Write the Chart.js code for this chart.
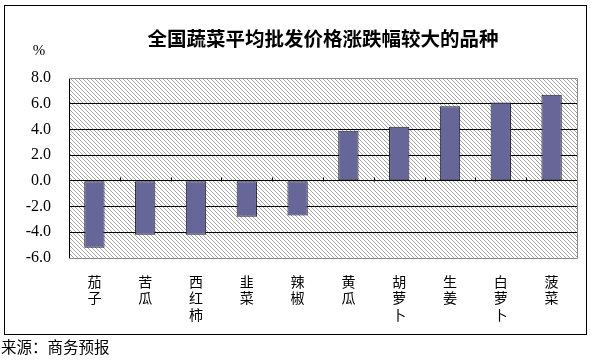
<!DOCTYPE html>
<html><head><meta charset="utf-8">
<script src="https://cdn.jsdelivr.net/npm/chart.js@4.4.0/dist/chart.umd.min.js"></script>
<style>html,body{margin:0;padding:0;background:#fff;} #wrap{width:597px;height:361px;position:relative;}</style>
</head><body><div id="wrap"><canvas id="c" width="597" height="361"></canvas></div>
<script>
const titleText = '全国蔬菜平均批发价格涨跌幅较大的品种';
const unitLabel = '%';
const sourceText = '来源：商务预报';
const categories = ['茄子','苦瓜','西红柿','韭菜','辣椒','黄瓜','胡萝卜','生姜','白萝卜','菠菜'];
const changes = [-5.2, -4.2, -4.2, -2.8, -2.7, 3.9, 4.2, 5.8, 6.1, 6.7];
const yTicks = [-6, -4, -2, 0, 2, 4, 6, 8];

const tile = document.createElement('canvas');
tile.width = 4; tile.height = 4;
const tc = tile.getContext('2d');
tc.fillStyle = '#ffffff'; tc.fillRect(0, 0, 4, 4);
tc.fillStyle = '#a4a4a4';
for (let i = 0; i < 4; i++) tc.fillRect(i, i, 1, 1);

const decor = {
  id: 'decor',
  beforeDraw(chart) {
    const ctx = chart.ctx, a = chart.chartArea;
    ctx.save();
    ctx.fillStyle = '#fff';
    ctx.fillRect(0, 0, chart.width, chart.height);
    ctx.fillStyle = ctx.createPattern(tile, 'repeat');
    ctx.fillRect(a.left, a.top, a.right - a.left, a.bottom - a.top);
    ctx.strokeStyle = '#000'; ctx.lineWidth = 1;
    ctx.strokeRect(4.5, 5.5, 582, 329);
    ctx.fillStyle = '#000';
    ctx.textAlign = 'center'; ctx.textBaseline = 'middle';
    ctx.font = 'bold 19.5px "Noto Sans CJK SC"';
    ctx.fillText(titleText, (a.left + a.right) / 2, 39);
    ctx.font = '15px "Liberation Serif"';
    ctx.fillText(unitLabel, 39, 51);
    ctx.textAlign = 'left';
    ctx.font = '15.5px "Noto Sans CJK SC"';
    ctx.fillText(sourceText, 1, 347);
    ctx.restore();
  },
  afterDraw(chart) {
    const ctx = chart.ctx, a = chart.chartArea;
    const ys = chart.scales.y;
    ctx.save();
    ctx.strokeStyle = '#8a8a8a'; ctx.lineWidth = 1;
    ctx.beginPath();
    ctx.moveTo(a.left, Math.round(a.top) + 0.5); ctx.lineTo(Math.round(a.right) + 0.5, Math.round(a.top) + 0.5);
    ctx.lineTo(Math.round(a.right) + 0.5, Math.round(a.bottom) + 0.5);
    ctx.lineTo(a.left, Math.round(a.bottom) + 0.5);
    ctx.stroke();
    const y0 = Math.round(ys.getPixelForValue(0)) + 0.5;
    ctx.strokeStyle = '#000';
    ctx.beginPath();
    const n = categories.length, w = (a.right - a.left) / n;
    for (let k = 1; k < n; k++) {
      const x = Math.round(a.left + k * w) + 0.5;
      ctx.moveTo(x, y0); ctx.lineTo(x, y0 - 4);
    }
    ctx.stroke();
    ctx.restore();
  }
};

new Chart(document.getElementById('c'), {
  type: 'bar',
  data: {
    labels: categories,
    datasets: [{
      data: changes,
      backgroundColor: '#666699',
      borderColor: '#22222e',
      borderWidth: 1,
      borderSkipped: false,
      categoryPercentage: 1,
      barPercentage: 0.4
    }]
  },
  options: {
    responsive: false,
    devicePixelRatio: 1,
    animation: false,
    layout: { padding: { left: 0, top: 78, right: 20, bottom: 0 } },
    plugins: { legend: { display: false }, title: { display: false }, tooltip: { enabled: false } },
    scales: {
      x: {
        grid: { display: false },
        border: { display: false },
        ticks: {
          autoSkip: false, maxRotation: 0, minRotation: 0,
          padding: 8, color: '#000',
          font: { family: '"Noto Sans CJK SC"', size: 14, lineHeight: 1.15 },
          callback: (v, i) => categories[i].split('')
        },
        afterFit: s => { s.height = 103; }
      },
      y: {
        min: -6, max: 8,
        afterBuildTicks: s => { s.ticks = yTicks.map(v => ({ value: v })); },
        grid: {
          drawTicks: false,
          color: c => (c.tick && (c.tick.value === 8 || c.tick.value === -6)) ? '#8a8a8a' : '#000',
          lineWidth: 1
        },
        border: { display: true, color: '#000', width: 1 },
        ticks: {
          padding: 18, color: '#000',
          font: { family: '"Liberation Serif"', size: 16 },
          callback: v => Number(v).toFixed(1)
        },
        afterFit: s => { s.width = 69; }
      }
    }
  },
  plugins: [decor]
});
</script>
</body></html>
